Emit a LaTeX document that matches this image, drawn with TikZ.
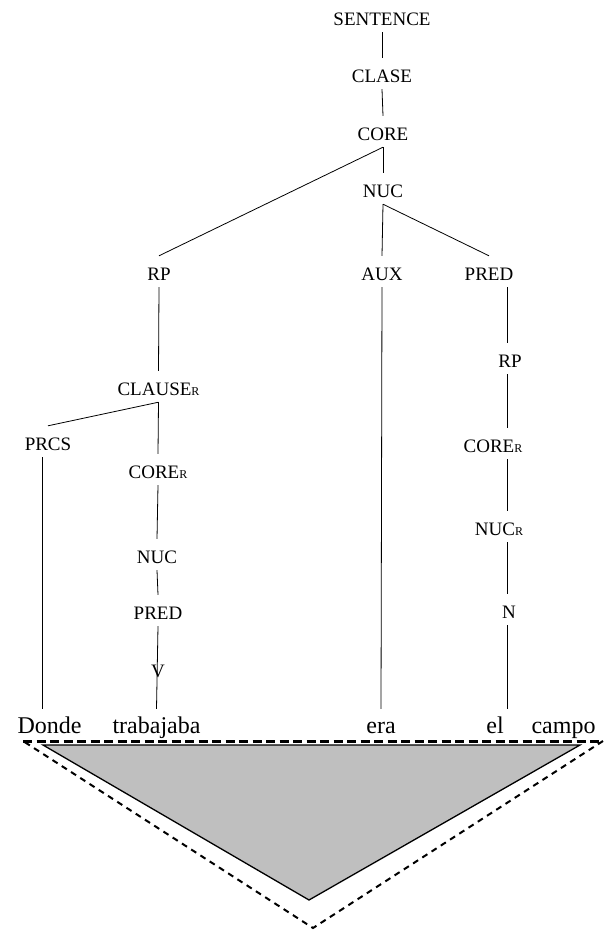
\documentclass[tikz,border=0pt]{standalone}
\usepackage{fontspec}
\setmainfont{Liberation Serif}
\usepackage{tikz}
\usetikzlibrary{calc}
\newcommand{\sbR}{\raisebox{-0.5pt}{\fontsize{12}{12}\selectfont R}}
\tikzset{
  treelab/.style={anchor=base, inner xsep=1pt, inner ysep=4pt, text height=20pt, text depth=3pt,
                  font=\fontsize{19}{19}\selectfont},
  wordlab/.style={anchor=base, inner xsep=1pt, inner ysep=4pt, text height=20pt, text depth=3pt,
                  font=\fontsize{24}{24}\selectfont},
  branch/.style={draw=black, line width=0.8pt},
  spanfill/.style={fill=black!25, draw=black, line width=1.3pt, line join=miter},
  spantop/.style={draw=black, line width=3pt, dash pattern=on 9pt off 4.5pt},
  spanside/.style={draw=black, line width=2pt, dash pattern=on 6pt off 5pt},
}
\begin{document}
\begin{tikzpicture}[x=1pt,y=-1pt]
\useasboundingbox (0,0) rectangle (611,932);
\node[treelab] (sent) at (382,25) {SENTENCE};
\node[treelab] (clase) at (382,82) {CLASE};
\node[treelab] (core) at (383,140) {CORE};
\node[treelab] (nuc) at (383,197) {NUC};
\node[treelab] (rp) at (159,280) {RP};
\node[treelab] (aux) at (382,280) {AUX};
\node[treelab] (pred) at (489,280) {PRED};
\node[treelab] (clauser) at (158.5,395) {CLAUSE\sbR};
\node[treelab] (prcs) at (48,450) {PRCS};
\node[treelab] (corel) at (158,478) {CORE\sbR};
\node[treelab] (nucl) at (157,563) {NUC};
\node[treelab] (predl) at (158,619) {PRED};
\node[treelab] (v) at (158,677) {V};
\node[treelab] (rpr) at (510,367) {RP};
\node[treelab] (corer) at (493,452) {CORE\sbR};
\node[treelab] (nucr) at (499,535) {NUC\sbR};
\node[treelab] (n) at (509,618) {N};
\node[wordlab] (donde) at (49.5,733) {Donde};
\node[wordlab] (trabajaba) at (156.5,733) {trabajaba};
\node[wordlab] (era) at (381,733) {era};
\node[wordlab] (el) at (495,733) {el};
\node[wordlab] (campo) at (563.5,733) {campo};
\coordinate (colR) at (507,0);
\coordinate (colD) at (42,0);
\draw[branch] (sent.south) -- (clase.north);
\draw[branch] (clase.south) -- (core.north);
\draw[branch] (core.south) -- (nuc.north);
\draw[branch] (core.south) -- (rp.north);
\draw[branch] (nuc.south) -- (aux.north);
\draw[branch] (nuc.south) -- (pred.north);
\draw[branch] (aux.south) -- (era.north);
\draw[branch] (rp.south) -- (clauser.north);
\draw[branch] (clauser.south) -- (prcs.north);
\draw[branch] (clauser.south) -- (corel.north);
\draw[branch] (prcs.south -| colD) -- (donde.north -| colD);
\draw[branch] (corel.south) -- (nucl.north);
\draw[branch] (nucl.south) -- (predl.north);
\draw[branch] (predl.south) -- (trabajaba.north);
\draw[branch] (pred.south -| colR) -- (rpr.north -| colR);
\draw[branch] (rpr.south -| colR) -- (corer.north -| colR);
\draw[branch] (corer.south -| colR) -- (nucr.north -| colR);
\draw[branch] (nucr.south -| colR) -- (n.north -| colR);
\draw[branch] (n.south -| colR) -- (el.north -| colR);
\path[spanfill] (43,745) -- (580,745) -- (309,900) -- cycle;
\draw[spanside] (603,741) -- (313,928) -- (23,741);
\draw[spantop] (23,741) -- (603,741);
\end{tikzpicture}
\end{document}
